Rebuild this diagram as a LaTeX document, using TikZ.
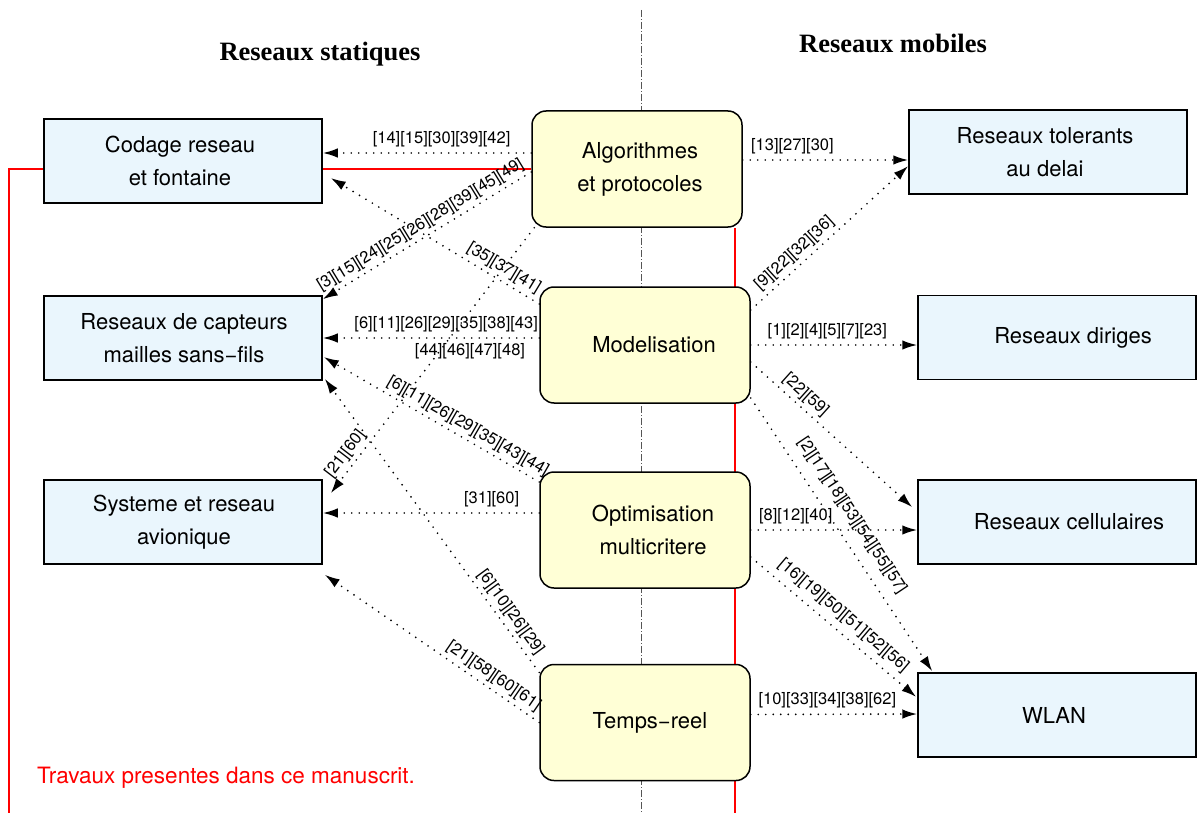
\documentclass[tikz,border=0pt]{standalone}
\usepackage{fontspec}
\setmainfont{TeX Gyre Heros}
\newfontfamily\titlefont{Liberation Serif}
\usetikzlibrary{arrows.meta,calc}
\definecolor{boxblue}{RGB}{234,246,253}
\definecolor{boxyellow}{RGB}{255,255,214}
\definecolor{axisgray}{RGB}{85,85,85}
\pgfdeclarelayer{bg}
\pgfsetlayers{bg,main}
\begin{document}
\begin{tikzpicture}[x=1pt,y=-1pt,
  sbox/.style={draw=black, line width=1.5pt, fill=boxblue, minimum width=278pt, minimum height=84pt, inner sep=0pt},
  cbox/.style={draw=black, line width=1.5pt, fill=boxyellow, rounded corners=14pt, minimum width=210pt, minimum height=116pt, inner sep=0pt},
  btext/.style={align=center, font=\fontsize{22}{33}\selectfont, inner sep=0pt},
  refarrow/.style={dash pattern=on 0pt off 7.5pt, line cap=round, line width=1.9pt, -{Latex[length=15pt,width=9.5pt]}},
  lbl/.style={font=\fontsize{16.5}{18}\selectfont, inner sep=1.5pt},
  hl/.style={lbl, above=4pt},
  hlb/.style={lbl, below=3pt},
  dl/.style={lbl, sloped, above=2pt},
  redline/.style={draw=red, line width=1.5pt},
  axis/.style={draw=axisgray, line width=1pt, dash pattern=on 7pt off 2pt on 1pt off 2pt},
  title/.style={font=\titlefont\bfseries\fontsize{26.5}{30}\selectfont, anchor=base},
]
\useasboundingbox (0,0) rectangle (1199,813);

% boxes
\node[sbox] (codage) at (183,161) {};
\node[sbox] (capteurs) at (183,338) {};
\node[sbox] (avionique) at (183,522) {};
\node[cbox] (algo) at (637,169) {};
\node[cbox] (model) at (645,345) {};
\node[cbox] (optim) at (645,530) {};
\node[cbox] (temps) at (645,722.5) {};
\node[sbox] (tolerants) at (1048,152) {};
\node[sbox] (diriges) at (1057,337.5) {};
\node[sbox] (cellulaires) at (1057,522) {};
\node[sbox] (wlan) at (1057,715) {};

% box texts
\node[btext] (codage-t) at ($(codage)+(-3,0)$) {Codage reseau\\et fontaine};
\node[btext] (capteurs-t) at ($(capteurs)+(1,0)$) {Reseaux de capteurs\\mailles sans−fils};
\node[btext] (avionique-t) at ($(avionique)+(1,0)$) {Systeme et reseau\\avionique};
\node[btext] (algo-t) at ($(algo)+(3,0)$) {Algorithmes\\et protocoles};
\node[btext] (model-t) at ($(model)+(9,0)$) {Modelisation};
\node[btext] (optim-t) at ($(optim)+(8,0)$) {Optimisation\\multicritere};
\node[btext] (temps-t) at ($(temps)+(5,0)$) {Temps−reel};
\node[btext] (tolerants-t) at ($(tolerants)+(-3,0)$) {Reseaux tolerants\\au delai};
\node[btext] (diriges-t) at ($(diriges)+(16,0)$) {Reseaux diriges};
\node[btext] (cellulaires-t) at ($(cellulaires)+(12,0)$) {Reseaux cellulaires};
\node[btext] (wlan-t) at ($(wlan)+(-3,0)$) {WLAN};

% titles and note
\node[title] (t-stat) at (320,61) {Reseaux statiques};
\node[title] (t-mob) at (893,53) {Reseaux mobiles};
\node[anchor=base west, text=red, inner sep=0pt, font=\fontsize{22.5}{26}\selectfont] (note) at (37,783) {Travaux presentes dans ce manuscrit.};

% background lines
\coordinate (axtop) at (641,10);
\coordinate (axbot) at (641,813);
\coordinate (redbot) at (9,813);
\coordinate (redbot2) at (735,813);
\begin{pgfonlayer}{bg}
  \fill[white] (0,0) rectangle (1199,813);
  \draw[axis] (axtop) -- (axbot);
  \draw[redline] (redbot) |- (algo.west);
  \draw[redline] (algo.south -| redbot2) -- (redbot2);
\end{pgfonlayer}

% connectors from Algorithmes
\draw[refarrow] ($(algo.west)+(0,-16)$) -- node[hl, pos=0.43] {[14][15][30][39][42]} ($(codage.east)+(0,-8)$);
\draw[refarrow] ($(algo.west)+(0,3)$) -- node[dl, pos=0.5] {[3][15][24][25][26][28][39][45][49]} ($(capteurs.north east)+(0,4)$);
\draw[refarrow] ($(algo.east)+(0,-9)$) -- node[hl, pos=0.3] {[13][27][30]} ($(tolerants.west)+(0,8)$);
\draw[refarrow] ($(algo.south west)+(3,0)$) -- node[dl, pos=0.88] {[21][60]} ($(avionique.north east)+(8,14)$);

% connectors from Modelisation
\draw[refarrow] ($(model.west)+(0,-41)$) -- node[dl, pos=0.2] {[35][37][41]} ($(codage.east)+(8,17)$);
\draw[refarrow] ($(model.west)+(0,-7)$) -- node[hl, pos=0.43] {[6][11][26][29][35][38][43]} node[hlb, pos=0.32] {[44][46][47][48]} (capteurs.east);
\draw[refarrow] ($(model.east)+(0,-35)$) -- node[dl, pos=0.33] {[9][22][32][36]} ($(tolerants.west)+(0,14)$);
\draw[refarrow] (model.east) -- node[hl, pos=0.46] {[1][2][4][5][7][23]} ($(diriges.west)+(0,7.5)$);
\draw[refarrow] ($(model.east)+(0,17)$) -- node[dl, pos=0.29] {[22][59]} ($(cellulaires.north west)+(-5,28)$);
\draw[refarrow] ($(model.east)+(0,53)$) -- node[lbl, sloped, above=9pt, pos=0.47] {[2][17][18][53][54][55][57]} ($(wlan.north west)+(15,-1)$);

% connectors from Optimisation
\draw[refarrow] ($(optim.west)+(0,-48)$) -- node[dl, pos=0.36] {[6][11][26][29][35][43][44]} ($(capteurs.east)+(1,19)$);
\draw[refarrow] ($(optim.west)+(0,-17)$) -- node[hl, pos=0.22] {[31][60]} ($(avionique.east)+(0,-9)$);
\draw[refarrow] (optim.east) -- node[hl, pos=0.27] {[8][12][40]} ($(cellulaires.west)+(0,8)$);
\draw[refarrow] ($(optim.east)+(0,27)$) -- node[lbl, sloped, above=5pt, pos=0.5] {[16][19][50][51][52][56]} ($(wlan.west)+(-1,-18)$);

% connectors from Temps-reel
\draw[refarrow] ($(temps.west)+(0,-50)$) -- node[dl, pos=0.18] {[6][10][26][29]} ($(capteurs.south east)+(2,-2)$);
\draw[refarrow] (temps.west) -- node[dl, pos=0.245] {[21][58][60][61]} ($(avionique.south east)+(2,10)$);
\draw[refarrow] ($(temps.east)+(0,-8)$) -- node[hl, pos=0.46] {[10][33][34][38][62]} ($(wlan.west)+(0,-1)$);
\end{tikzpicture}
\end{document}
